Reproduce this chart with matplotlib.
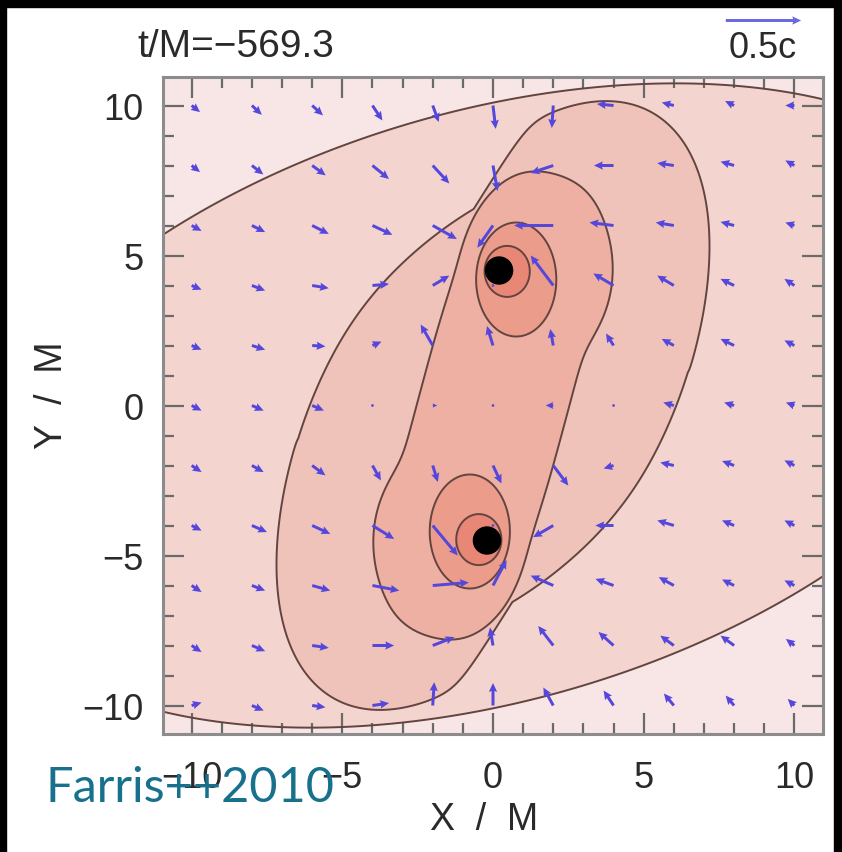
import numpy as np
import matplotlib
matplotlib.use("Agg")
import matplotlib.pyplot as plt
from matplotlib import font_manager
from matplotlib.patches import Rectangle, Circle
from matplotlib.ticker import MultipleLocator

# ---------------------------------------------------------------- data
# black-hole positions (in M) and horizon-marker radius
bh_x = [0.2, -0.2]
bh_y = [4.5, -4.5]
bh_radius = 0.45

# density contour shapes, outermost level first
# ellipse: (cx, cy, semi-axis a, semi-axis b, angle of a in degrees)
outer_ellipse = (0.0, 0.0, 18.3, 9.8, 16.5)
disk_ellipse = (0.0, 0.0, 11.1, 5.6, 62.0)
disk_flank = (0.0, 0.0, 9.5, 5.5, 48.0)
# streams feeding each hole: the disk level is cut left of these directed lines
disk_channels = [((-0.8, 6.3), (0.97, 9.13)), ((0.8, -6.3), (-0.97, -9.13))]
channel_reach = 9.0
bridge_body = (0.0, 0.0, 7.6, 2.45, 75.0)                     # superellipse, n=3
bridge_lobes = [(1.5, 4.5, 2.45, 3.1, 0.0), (-1.5, -4.5, 2.45, 3.1, 0.0)]
ring_ellipses = [(0.77, 4.2, 1.33, 1.9, 0.0), (-0.77, -4.2, 1.33, 1.9, 0.0)]
core_ellipses = [(0.47, 4.47, 0.75, 0.85, 0.0), (-0.47, -4.47, 0.75, 0.85, 0.0)]

level_colors = ["#f3d4cf", "#f0c3ba", "#eeb0a2", "#ec9c8b", "#e98777"]
background_color = "#f7e6e5"

# velocity field sample points (in M) and velocities (in units of c)
arrow_x = [-10, -8, -6, -4, -2, 0, 2, 4, 6, 8, 10]
arrow_y = [10, 8, 6, 4, 2, 0, -2, -4, -6, -8, -10]
vel_x = [
    [.056, .066, .072, .066, .040, .018, -.010, -.110, -.080, -.060, -.060],
    [.056, .076, .090, .110, .110, .030, -.150, -.130, -.110, -.090, -.060],
    [.066, .088, .110, .132, .160, -.104, -.260, -.160, -.120, -.090, -.060],
    [.066, .088, .110, .110, .110, .000, -.150, -.134, -.110, -.090, -.066],
    [.066, .088, .088, .060, -.080, -.040, -.020, -.050, -.080, -.090, -.066],
    [.066, .078, .078, .010, .030, .010, -.050, -.010, -.070, -.066, -.056],
    [.066, .078, .088, .056, .034, .056, .100, -.066, -.090, -.080, -.066],
    [.066, .100, .120, .144, .166, .000, -.134, -.120, -.110, -.080, -.066],
    [.066, .088, .120, .178, .240, .090, -.150, -.120, -.100, -.080, -.066],
    [.066, .088, .110, .144, .144, -.020, -.100, -.100, -.090, -.090, -.056],
    [.066, .078, .088, .110, .010, .000, -.066, -.066, -.066, -.056, -.044],
]
vel_y = [
    [-.044, -.062, -.066, -.100, -.110, -.156, -.150, .010, .020, .030, .000],
    [-.044, -.060, -.066, -.090, -.120, -.170, -.050, .000, .016, .026, .034],
    [-.036, -.044, -.056, -.062, -.090, -.148, .000, .020, .020, .024, .020],
    [-.028, -.034, -.018, .010, .066, .000, .200, .080, .066, .044, .044],
    [-.028, -.028, -.006, .026, .140, .130, .110, .080, .044, .044, .034],
    [-.034, -.034, -.034, .000, .000, .000, .000, .000, .020, .020, .020],
    [-.044, -.044, -.066, -.100, -.110, -.120, -.134, -.020, .020, .030, .034],
    [-.034, -.044, -.056, -.090, -.200, .000, -.078, .000, .034, .034, .034],
    [-.044, -.034, -.034, -.034, .020, .170, .066, .044, .056, .040, .034],
    [-.044, -.038, -.016, .000, .056, .120, .130, .090, .066, .066, .044],
    [.020, -.034, -.012, .016, .156, .150, .120, .100, .080, .066, .044],
]
key_speed = 0.5

time_label = "t/M=\u2212569.3"
credit = "Farris++2010"


# ---------------------------------------------------------------- helpers
def pick_family(*names):
    installed = {f.name for f in font_manager.fontManager.ttflist}
    for n in names:
        if n in installed:
            return n
    return "DejaVu Sans"


SANS = pick_family("Liberation Sans", "Arimo", "DejaVu Sans")
NARROW = pick_family("Liberation Sans Narrow", "Liberation Sans", "DejaVu Sans")
CREDIT_FONT = pick_family("Lato", "Open Sans", "DejaVu Sans")


def rotated(X, Y, cx, cy, ang):
    t = np.deg2rad(ang)
    dx, dy = X - cx, Y - cy
    return dx * np.cos(t) + dy * np.sin(t), -dx * np.sin(t) + dy * np.cos(t)


def ellipse_r(X, Y, shape):
    cx, cy, a, b, ang = shape
    u, w = rotated(X, Y, cx, cy, ang)
    return np.sqrt((u / a) ** 2 + (w / b) ** 2)


def superellipse_r(X, Y, shape, n=3.0):
    cx, cy, a, b, ang = shape
    u, w = rotated(X, Y, cx, cy, ang)
    return (np.abs(u / a) ** n + np.abs(w / b) ** n) ** (1.0 / n)


def soft_min(arrs, k=0.06):
    s = np.stack(arrs)
    m = s.min(axis=0)
    return m - k * np.log(np.exp(-(s - m) / k).sum(axis=0))


def soft_max(arrs, k=0.04):
    return -soft_min([-a for a in arrs], k)


def channel_cut(X, Y, p0, p1, r_flank, reach):
    """Depth of the region outside the flank ellipse, left of p0 -> p1,
    and no further than `reach` behind p0 along that line."""
    d = np.array(p1, float) - np.array(p0, float)
    d /= np.hypot(*d)
    px, py = X - p0[0], Y - p0[1]
    left = px * (-d[1]) + py * d[0]
    ahead = px * d[0] + py * d[1] + reach
    return np.minimum(np.minimum(r_flank - 1.0, 0.3 * left), 0.3 * ahead)


# ---------------------------------------------------------------- figure
W, H = 842, 853
fig = plt.figure(figsize=(W / 100, H / 100), dpi=100)
fig.patch.set_facecolor("white")
ax = fig.add_axes([163 / W, 1 - 735 / H, 660 / W, 657 / H])
ax.set_facecolor(background_color)

g = np.linspace(-11.5, 11.5, 1101)
X, Y = np.meshgrid(g, g)

r_outer = ellipse_r(X, Y, outer_ellipse)
r_flank = ellipse_r(X, Y, disk_flank)
cuts = [1.0 + channel_cut(X, Y, p0, p1, r_flank, channel_reach)
        for p0, p1 in disk_channels]
r_disk = soft_max([ellipse_r(X, Y, disk_ellipse)] + cuts, k=0.04)
r_bridge = soft_min([superellipse_r(X, Y, bridge_body)] +
                    [ellipse_r(X, Y, s) for s in bridge_lobes], k=0.08)
r_ring = np.minimum(*[ellipse_r(X, Y, s) for s in ring_ellipses])
r_core = np.minimum(*[ellipse_r(X, Y, s) for s in core_ellipses])

line_color = "#624540"
for r, col in zip([r_outer, r_disk, r_bridge, r_ring, r_core], level_colors):
    ax.contourf(X, Y, r, levels=[-1.0, 1.0], colors=[col], zorder=1)
    ax.contour(X, Y, r, levels=[1.0], colors=[line_color], linewidths=1.4, zorder=2)

AX, AY = np.meshgrid(arrow_x, arrow_y)
Q = ax.quiver(AX, AY, np.array(vel_x), np.array(vel_y),
              angles="xy", scale_units="xy", scale=0.2,
              color="#5547dc", width=0.0045, headwidth=2.8,
              headlength=3.0, headaxislength=2.7, zorder=3)

for x0, y0 in zip(bh_x, bh_y):
    ax.add_patch(Circle((x0, y0), bh_radius, color="black", zorder=5))

ax.set_xlim(-10.95, 10.95)
ax.set_ylim(-10.95, 10.95)
ax.set_xticks([-10, -5, 0, 5, 10])
ax.set_yticks([-10, -5, 0, 5, 10])
ax.xaxis.set_minor_locator(MultipleLocator(1))
ax.yaxis.set_minor_locator(MultipleLocator(1))
ax.tick_params(which="both", direction="in", top=True, right=True,
               color="#6a6a6a", width=1.6)
ax.tick_params(which="major", length=15, labelsize=26, pad=14)
ax.tick_params(which="minor", length=8)
ax.tick_params(axis="x", which="major", pad=19)
for lab in ax.get_xticklabels() + ax.get_yticklabels():
    lab.set_family(SANS)
    lab.set_color("#2a2a2a")
for sp in ax.spines.values():
    sp.set_color("#8c8c8c")
    sp.set_linewidth(2.2)

fig.text(484 / W, 1 - 820 / H, "X  /  M", ha="center", va="center",
         fontsize=27, family=SANS, color="#2a2a2a")
fig.text(52 / W, 1 - 395 / H, "Y  /  M", ha="center", va="center",
         rotation=90, fontsize=27, family=SANS, color="#2a2a2a")
fig.text(137 / W, 1 - 47 / H, time_label, ha="left", va="center",
         fontsize=28, family=NARROW, color="#2a2a2a")

ax.quiverkey(Q, X=763 / W, Y=1 - 21 / H, U=key_speed, label="0.5c",
             labelpos="S", coordinates="figure", color="#6a68dc",
             labelsep=0.1, labelcolor="#2a2a2a",
             fontproperties={"size": 26, "family": SANS})

fig.text(46 / W, 1 - 802 / H, credit, ha="left", va="baseline",
         fontsize=35, family=CREDIT_FONT, color="#17708c", zorder=10)

# black frame strips around the page
for rect in [(0, 1 - 8 / H, 1, 8 / H), (0, 0, 6 / W, 1), (1 - 8 / W, 0, 8 / W, 1)]:
    fig.add_artist(Rectangle(rect[:2], rect[2], rect[3], transform=fig.transFigure,
                             color="black", zorder=20))

fig.savefig("out.png", dpi=100)
